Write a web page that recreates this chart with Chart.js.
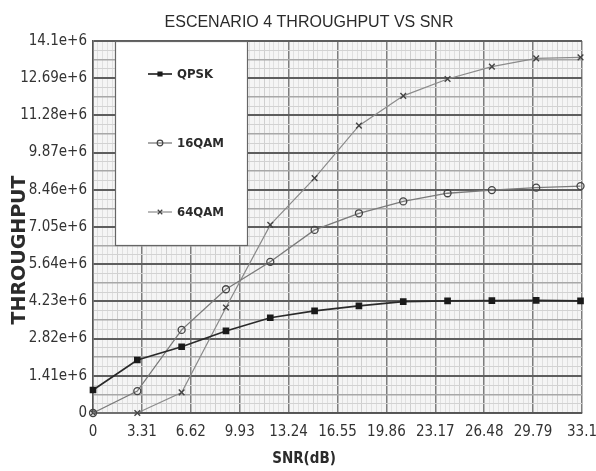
<!DOCTYPE html>
<html>
<head>
<meta charset="utf-8">
<title>Escenario 4 Throughput vs SNR</title>
<script src="https://cdn.jsdelivr.net/npm/chart.js@4/dist/chart.umd.min.js"></script>
<style>
  body { margin: 0; background: #fff; }
  canvas { display: block; }
</style>
</head>
<body>
<canvas id="grafico" width="596" height="471"></canvas>
<script>
// valores de SNR (dB) medidos
const snr = [0, 3, 6, 9, 12, 15, 18, 21, 24, 27, 30, 33];

const qpsk  = [870000, 2010000, 2510000, 3110000, 3610000, 3870000, 4060000, 4220000, 4250000, 4260000, 4270000, 4250000];
const qam16 = [0, 830000, 3150000, 4690000, 5730000, 6940000, 7570000, 8020000, 8330000, 8450000, 8540000, 8600000];
const qam64 = [0, 0, 780000, 4000000, 7130000, 8900000, 10890000, 12020000, 12660000, 13130000, 13440000, 13480000];

const xTickLabels = ['0', '3.31', '6.62', '9.93', '13.24', '16.55', '19.86', '23.17', '26.48', '29.79', '33.1'];
const yTickLabels = ['0', '1.41e+6', '2.82e+6', '4.23e+6', '5.64e+6', '7.05e+6', '8.46e+6', '9.87e+6', '11.28e+6', '12.69e+6', '14.1e+6'];

const titulo = 'ESCENARIO 4 THROUGHPUT VS SNR';
const tituloX = 'SNR(dB)';
const tituloY = 'THROUGHPUT';

const NARROW = "'Liberation Sans Narrow', 'DejaVu Sans Condensed', Arial, sans-serif";

const toPoints = (ys) => ys.map((y, i) => ({ x: snr[i], y: y }));

const X_MAX = 33.1, X_SUB = 10;
const Y_MAX = 14100000, Y_SUB = 4;

// fondo gris claro del area de trazado
const fondoArea = {
  id: 'fondoArea',
  beforeDraw(chart) {
    const { ctx, chartArea: a } = chart;
    ctx.save();
    ctx.fillStyle = '#f5f5f5';
    ctx.fillRect(a.left, a.top, a.right - a.left, a.bottom - a.top);
    ctx.restore();
  }
};

// titulos y leyenda dibujados a mano
const textos = {
  id: 'textos',
  afterDatasetsDraw(chart) {
    const { ctx, chartArea: a } = chart;
    ctx.save();
    ctx.fillStyle = '#2b2b2b';
    ctx.textAlign = 'center';
    ctx.textBaseline = 'middle';

    ctx.font = "16px 'Liberation Sans', Arial, sans-serif";
    ctx.fillText(titulo, 309, 23);

    ctx.font = "bold 15px " + NARROW;
    ctx.fillText(tituloX, 304, 459);

    ctx.save();
    ctx.translate(20, 250);
    ctx.rotate(-Math.PI / 2);
    ctx.font = "bold 19px 'DejaVu Sans', sans-serif";
    ctx.fillText(tituloY, 0, 0);
    ctx.restore();

    // caja de la leyenda
    const bx = 115, by = a.top, bw = 132, bh = 204;
    ctx.fillStyle = '#ffffff';
    ctx.fillRect(bx, by, bw, bh);
    ctx.strokeStyle = '#666';
    ctx.lineWidth = 1.2;
    ctx.strokeRect(bx + 0.5, by + 0.5, bw, bh);

    const filas = [74, 143, 212];
    chart.data.datasets.forEach((ds, i) => {
      const y = filas[i];
      ctx.strokeStyle = ds.borderColor;
      ctx.lineWidth = ds.borderWidth;
      ctx.beginPath();
      ctx.moveTo(148, y);
      ctx.lineTo(172, y);
      ctx.stroke();
      ctx.fillStyle = ds.pointBackgroundColor;
      ctx.strokeStyle = ds.pointBorderColor;
      ctx.lineWidth = 1.2;
      Chart.helpers.drawPoint(ctx, { pointStyle: ds.pointStyle, radius: ds.pointRadius * 0.8, borderWidth: 1.2, rotation: 0 }, 160, y);
      ctx.fillStyle = '#2b2b2b';
      ctx.textAlign = 'left';
      ctx.font = "bold 13px " + NARROW;
      ctx.fillText(ds.label, 177, y + 1);
    });
    ctx.restore();
  }
};

new Chart(document.getElementById('grafico'), {
  type: 'line',
  data: {
    datasets: [
      {
        label: 'QPSK',
        data: toPoints(qpsk),
        borderColor: '#2a2a2a',
        borderWidth: 1.7,
        pointStyle: 'rect',
        pointRadius: 3.5,
        pointBackgroundColor: '#1a1a1a',
        pointBorderColor: '#1a1a1a',
        tension: 0,
        clip: false
      },
      {
        label: '16QAM',
        data: toPoints(qam16),
        borderColor: '#7a7a7a',
        borderWidth: 1.3,
        pointStyle: 'circle',
        pointRadius: 3.5,
        pointBackgroundColor: 'rgba(255,255,255,0)',
        pointBorderColor: '#444',
        tension: 0,
        clip: false
      },
      {
        label: '64QAM',
        data: toPoints(qam64),
        borderColor: '#8a8a8a',
        borderWidth: 1.2,
        pointStyle: 'crossRot',
        pointRadius: 4,
        pointBackgroundColor: '#444',
        pointBorderColor: '#444',
        pointBorderWidth: 1.4,
        tension: 0,
        clip: false
      }
    ]
  },
  options: {
    responsive: false,
    animation: false,
    layout: { padding: { top: 41, right: 14, left: 0, bottom: 0 } },
    plugins: {
      legend: { display: false },
      title: { display: false },
      tooltip: { enabled: false }
    },
    scales: {
      x: {
        type: 'linear',
        min: 0,
        max: X_MAX,
        afterBuildTicks: (axis) => {
          const t = [];
          for (let i = 0; i <= X_SUB * 10; i++) t.push({ value: i * X_MAX / (X_SUB * 10) });
          axis.ticks = t;
        },
        afterFit: (axis) => {
          axis.height = 58;
          axis.paddingLeft = 0;
          axis.paddingRight = 0;
        },
        ticks: {
          autoSkip: false,
          maxRotation: 0,
          padding: 10,
          color: '#333',
          font: { family: NARROW, size: 15 },
          callback: (v, i) => (i % X_SUB === 0 ? xTickLabels[i / X_SUB] : '')
        },
        grid: {
          drawTicks: false,
          color: (c) => (c.index % X_SUB === 0 ? '#7d7d7d' : c.index % 5 === 0 ? '#cfcfcf' : '#e0e0e0'),
          lineWidth: (c) => (c.index % X_SUB === 0 ? 1.5 : 1)
        },
        border: { color: '#555', width: 1.5 }
      },
      y: {
        min: 0,
        max: Y_MAX,
        afterBuildTicks: (axis) => {
          const t = [];
          for (let i = 0; i <= Y_SUB * 10; i++) t.push({ value: i * Y_MAX / (Y_SUB * 10) });
          axis.ticks = t;
        },
        afterFit: (axis) => {
          axis.width = 93;
          axis.paddingTop = 0;
          axis.paddingBottom = 0;
        },
        ticks: {
          autoSkip: false,
          padding: 6,
          color: '#333',
          font: { family: NARROW, size: 15 },
          callback: (v, i) => (i % Y_SUB === 0 ? yTickLabels[i / Y_SUB] : '')
        },
        grid: {
          drawTicks: false,
          color: (c) => (c.index % Y_SUB === 0 ? '#5e5e5e' : c.index % 2 === 0 ? '#a8a8a8' : '#d2d2d2'),
          lineWidth: (c) => (c.index % Y_SUB === 0 ? 2 : c.index % 2 === 0 ? 1.5 : 1)
        },
        border: { color: '#555', width: 1.5 }
      }
    }
  },
  plugins: [fondoArea, textos]
});
</script>
</body>
</html>
